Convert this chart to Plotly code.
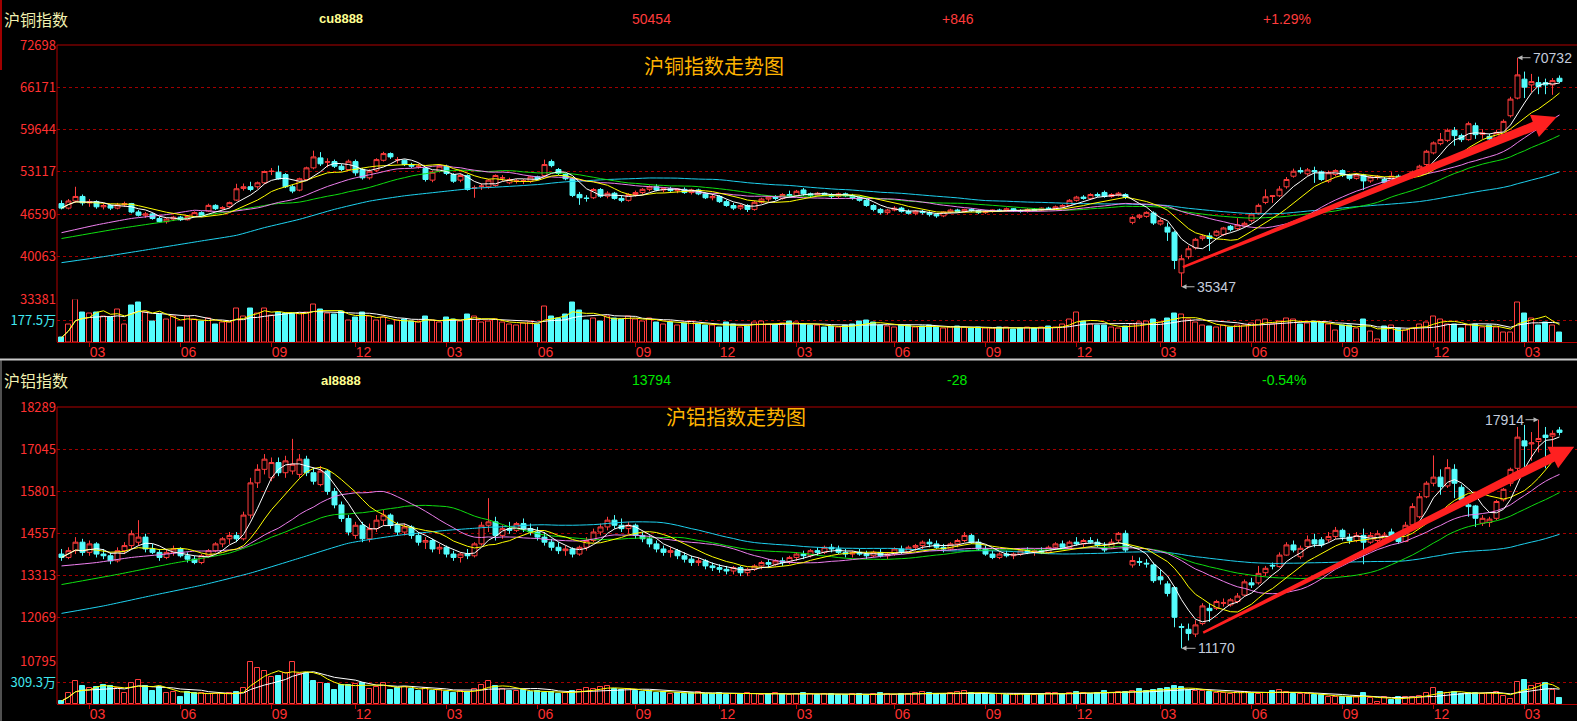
import plotly.graph_objects as go
import pandas as pd

W, H = 1577, 721
LEFT = 57
N = 215
idx = list(range(N))

# ---------------- data ----------------
tick_idx = [4, 17, 30, 42, 55, 68, 82, 94, 105, 119, 132, 145, 157, 170, 183, 196, 209]
tick_txt = ["03", "06", "09", "12"] * 4 + ["03"]

cu_open = [
    48200, 47500, 48600, 49300, 48300, 48500, 47700, 47900, 47500, 48000,
    48200, 46900, 46400, 46600, 45900, 45400, 45800, 46100, 45700, 46200,
    46800, 47040, 47920, 47450, 47720, 48740, 50540, 50800, 50800, 51410,
    53150, 53050, 52690, 50800, 50280, 51920, 53720, 55260, 54600, 54690,
    53970, 53460, 54690, 53460, 52180, 53350, 54890, 55920, 54950, 54890,
    54230, 53950, 53620, 51820, 53200, 53970, 52690, 51820, 52540, 50600,
    50850, 50800, 51000, 52150, 51410, 51650, 51680, 51660, 52330, 52540,
    54690, 53460, 52690, 52030, 49610, 49050, 49100, 50380, 49350, 49800,
    49000, 48700, 49600, 49900, 50400, 50800, 50300, 50500, 50200, 50400,
    49900, 50300, 49700, 49100, 49300, 48500, 47900, 47500, 47900, 47300,
    48400, 48900, 49200, 49000, 49600, 49400, 50300, 49700, 49500, 49800,
    49600, 49300, 49700, 49400, 49100, 48700, 47900, 47300, 46800, 47200,
    47500, 47000, 46700, 47000, 46800, 46500, 46300, 46900, 47200, 47000,
    47300, 47100, 46800, 47000, 47200, 47100, 47400, 47100, 47000, 47300,
    47200, 47500, 47400, 47700, 47900, 48700, 49200, 49000, 49600, 49920,
    49300, 49500, 49600, 45300, 46080, 46220, 46740, 45050, 44560, 43770,
    37490, 39990, 41350, 42830, 43210, 43310, 43410, 44690, 44330, 44740,
    45560, 46740, 48380, 49300, 49400, 50790, 52430, 53300, 52800, 53300,
    53100, 51660, 52700, 53300, 52600, 52100, 52600, 51700, 52300, 51920,
    51410, 52430, 51920, 52300, 53200, 54230, 56030, 57460, 57970, 59520,
    58700, 58080, 60230, 58900, 58590, 58180, 58850, 61770, 64500, 67420,
    66540, 66880, 66880, 66540, 67560]
cu_high = [
    48700, 48900, 50800, 49600, 48900, 48700, 48300, 48100, 48300, 48500,
    48300, 47200, 46900, 46800, 46200, 46000, 46300, 46300, 46400, 47000,
    47000, 48180, 48100, 47800, 48500, 51260, 51300, 51570, 51600, 53300,
    53700, 54070, 52900, 51100, 52200, 53900, 56380, 56150, 55200, 55000,
    54300, 55000, 55000, 53700, 53500, 55200, 56200, 56100, 55400, 55000,
    54500, 54400, 53900, 53300, 54300, 54200, 52900, 52800, 52700, 51000,
    51300, 52000, 52700, 52600, 52200, 52000, 52000, 52500, 52500, 54990,
    55000, 53700, 52900, 52300, 50000, 49500, 50600, 50600, 50100, 50000,
    49500, 49800, 50200, 50600, 51000, 51200, 50700, 50800, 50600, 50700,
    50500, 50500, 49900, 49600, 49500, 48800, 48300, 48100, 48100, 48600,
    49100, 49400, 49500, 49800, 50200, 50300, 50600, 49900, 50000, 49900,
    49800, 49900, 49900, 49700, 49400, 48900, 48100, 47500, 47400, 47800,
    47700, 47300, 47200, 47200, 47000, 46700, 47000, 47400, 47400, 47400,
    47500, 47300, 47200, 47300, 47400, 47600, 47500, 47300, 47500, 47500,
    47600, 47700, 47900, 48100, 48900, 49400, 49500, 49800, 49900, 50200,
    49800, 50000, 49800, 46300, 46600, 47000, 47000, 45900, 45260, 44000,
    40300, 41700, 42900, 43400, 43700, 44100, 44600, 44900, 45950, 45400,
    46800, 48200, 50400, 49450, 50900, 52300, 53600, 53800, 53700, 53900,
    53300, 53300, 53500, 53500, 52800, 52900, 52800, 52500, 52600, 52300,
    53050, 52700, 52500, 53300, 54200, 56500, 57800, 59110, 59800, 60030,
    59000, 60850, 60700, 59700, 59000, 59600, 61200, 64700, 70732, 68590,
    68230, 67800, 67500, 67600, 68000]
cu_low = [
    47300, 47300, 48300, 47900, 47700, 47400, 47300, 47200, 47300, 47700,
    46700, 46200, 46000, 45700, 45200, 45100, 45500, 45500, 45600, 46000,
    46100, 46900, 47200, 47300, 47500, 48600, 50200, 50100, 50500, 51200,
    52600, 51900, 50600, 49800, 50100, 51700, 53500, 54000, 53800, 53700,
    53200, 53300, 52500, 51900, 51900, 53100, 54700, 55100, 54400, 54000,
    53700, 53600, 51600, 51500, 53000, 52600, 51400, 51500, 50200, 49100,
    50300, 50500, 50800, 51700, 51200, 51300, 51200, 51400, 51800, 52300,
    53800, 52600, 51800, 49200, 48000, 48500, 48900, 49100, 49000, 48800,
    48400, 48500, 49300, 49600, 50100, 50100, 49900, 50000, 49800, 49700,
    49600, 49500, 48900, 48700, 48300, 47700, 47200, 47200, 46900, 47100,
    48200, 48500, 48700, 48800, 49200, 49300, 49400, 49100, 49300, 49400,
    48900, 49000, 49200, 48800, 48500, 47700, 47000, 46500, 46500, 47000,
    46800, 46500, 46400, 46500, 46200, 46000, 46100, 46700, 46800, 46800,
    46900, 46600, 46600, 46800, 46900, 46900, 46900, 46800, 46800, 47000,
    47000, 47200, 47200, 47500, 47800, 48500, 48800, 48900, 49200, 49100,
    49100, 49300, 48900, 45000, 45800, 46000, 44900, 44800, 42430, 38070,
    35347, 39600, 41100, 42500, 40880, 43100, 43200, 43900, 44100, 44500,
    45300, 46500, 48100, 48300, 49200, 50500, 52200, 52800, 52500, 51400,
    51700, 51400, 52400, 52300, 51800, 51900, 50300, 51400, 51900, 51200,
    51200, 51600, 51700, 52100, 53000, 54000, 55800, 57200, 57700, 57150,
    57700, 57900, 58200, 58200, 57900, 57800, 58600, 61500, 64300, 64500,
    65360, 65100, 65100, 65000, 66800]
cu_close = [
    47500, 48600, 49300, 48300, 48500, 47700, 47900, 47500, 48000, 48200,
    46900, 46400, 46600, 45900, 45400, 45800, 46100, 45700, 46200, 46800,
    46300, 47920, 47410, 47560, 48340, 50490, 50800, 50380, 51410, 53150,
    53200, 52030, 50800, 50130, 52030, 53720, 55410, 54340, 54650, 53970,
    53460, 54740, 52950, 52180, 53200, 54990, 55920, 55410, 54990, 54230,
    53970, 53970, 51920, 53050, 53970, 52850, 51660, 52540, 50380, 50640,
    50900, 51820, 52540, 52180, 51920, 51700, 51720, 52330, 52000, 54230,
    54070, 52850, 52030, 49460, 49100, 49000, 50380, 49350, 49800, 49000,
    48700, 49600, 49900, 50400, 50800, 50300, 50500, 50200, 50400, 49900,
    50300, 49700, 49100, 49300, 48500, 47900, 47500, 47900, 47300, 48400,
    48900, 49200, 49000, 49600, 49400, 50100, 49700, 49500, 49800, 49600,
    49300, 49700, 49400, 49100, 48700, 47900, 47300, 46800, 47200, 47500,
    47000, 46700, 47000, 46800, 46500, 46300, 46900, 47200, 47000, 47300,
    47100, 46800, 47000, 47200, 47100, 47400, 47100, 47000, 47300, 47200,
    47500, 47400, 47700, 47900, 48700, 49200, 49000, 49600, 49400, 49300,
    49600, 49800, 49150, 46070, 46390, 46840, 45200, 45560, 43790, 39410,
    39680, 41220, 42680, 43160, 42800, 43930, 44430, 44180, 44900, 45150,
    46580, 47920, 49250, 49400, 50430, 51920, 53200, 53100, 53400, 53100,
    51920, 52950, 53300, 52600, 52100, 52600, 51700, 52300, 52400, 51410,
    52430, 51920, 52300, 53100, 53970, 56280, 57570, 58080, 59520, 58700,
    58080, 60540, 58850, 59110, 58180, 59200, 60900, 64340, 68080, 66190,
    67050, 66280, 66540, 67200, 67050]
cu_vol = [  # 万手
    36, 148, 351, 250, 240, 245, 217, 206, 273, 150,
    309, 334, 245, 170, 228, 184, 217, 120, 217, 190,
    170, 198, 150, 161, 161, 284, 217, 284, 240, 281,
    225, 245, 234, 240, 234, 245, 317, 273, 240, 228,
    253, 178, 206, 250, 211, 178, 206, 134, 178, 190,
    170, 165, 215, 180, 160, 205, 190, 175, 230, 215,
    160, 175, 190, 160, 150, 140, 155, 165, 150, 300,
    210, 195, 230, 330, 260, 180, 200, 170, 215, 200,
    190, 210, 185, 175, 200, 165, 150, 160, 140, 155,
    170, 150, 135, 140, 125, 160, 150, 120, 130, 165,
    175, 150, 140, 155, 170, 160, 145, 135, 140, 125,
    130, 120, 135, 150, 170, 180, 165, 140, 130, 125,
    140, 135, 120, 130, 140, 125, 115, 120, 130, 125,
    110, 120, 115, 110, 125, 120, 105, 115, 125, 110,
    120, 130, 125, 150, 185, 245, 170, 150, 140, 135,
    125, 110, 130, 150, 165, 170, 185, 160, 200, 240,
    230, 185, 160, 140, 130, 125, 140, 120, 135, 140,
    155, 180, 190, 150, 170, 200, 185, 150, 156, 170,
    164, 148, 100, 134, 134, 114, 192, 86, 22, 128,
    134, 114, 100, 114, 150, 161, 217, 184, 150, 150,
    109, 134, 148, 123, 136, 123, 78, 78, 334, 242,
    198, 142, 161, 142, 78]

al_open = [
    13950, 13850, 14050, 14300, 14000, 14250, 13950, 13900, 13750, 14050,
    14200, 14300, 14450, 14100, 14000, 13850, 14000, 14100, 13900, 13800,
    13700, 13900, 14050, 14250, 14400, 14500, 14400, 15100, 16050, 16450,
    16200, 16650, 16350, 16400, 16300, 16750, 16350, 16000, 16400, 15800,
    15400, 15000, 14500, 14800, 14400, 14700, 14950, 15100, 14800, 14600,
    14750, 14500, 14300, 14350, 14100, 14150, 13950, 13850, 13950, 13900,
    14250, 14800, 14900, 14500, 14700, 14650, 14850, 14700, 14600, 14450,
    14300, 14150, 14050, 14100, 13950, 14150, 14350, 14600, 14750, 14950,
    14800, 14700, 14800, 14500, 14400, 14250, 14100, 14000, 14050, 13900,
    13800, 13700, 13750, 13600, 13550, 13500, 13450, 13550, 13400, 13500,
    13600, 13700, 13650, 13750, 13700, 13850, 13950, 13900, 14050, 14000,
    14150, 14100, 14000, 13950, 14000, 13950, 13900, 14000, 13900, 13950,
    14100, 14000, 14150, 14200, 14300, 14250, 14150, 14100, 14250, 14350,
    14500, 14300, 14100, 13950, 13850, 13950, 13900, 13950, 14050, 14000,
    14050, 14000, 14150, 14250, 14150, 14300, 14250, 14350, 14300, 14120,
    14150, 14360, 14560, 13630, 13730, 13680, 13630, 13280, 13070, 12960,
    11810, 11730, 11590, 11900, 12350, 12350, 12500, 12450, 12550, 12740,
    13100, 13100, 13400, 13620, 13580, 13920, 14220, 13870, 14170, 14370,
    14370, 14370, 14470, 14650, 14450, 14350, 14500, 14300, 14350, 14390,
    14600, 14460, 14320, 14810, 15050, 15640, 16040, 16220, 15960, 16450,
    15920, 15400, 15370, 14860, 14880, 15005, 15550, 16040, 16480, 17290,
    17200, 17270, 17460, 17430, 17610]
al_high = [
    14100, 14150, 14450, 14400, 14350, 14300, 14100, 14000, 14150, 14300,
    14650, 14950, 14550, 14250, 14100, 14100, 14200, 14150, 14000, 13900,
    13950, 14100, 14300, 14450, 14600, 14600, 15200, 16200, 16600, 16900,
    16800, 16800, 16850, 17350, 16900, 16850, 16500, 16550, 16450, 15900,
    15500, 15100, 14900, 14900, 14850, 15100, 15250, 15150, 14900, 14850,
    14800, 14600, 14450, 14400, 14250, 14200, 14050, 14000, 14100, 14300,
    14900, 15600, 15050, 14800, 14900, 14900, 15000, 14850, 14750, 14600,
    14400, 14300, 14200, 14150, 14200, 14450, 14700, 14850, 15050, 15100,
    15000, 14900, 14850, 14600, 14500, 14350, 14200, 14150, 14100, 14000,
    13900, 13850, 13800, 13700, 13650, 13600, 13600, 13600, 13550, 13650,
    13750, 13800, 13800, 13850, 13900, 14000, 14050, 14100, 14150, 14200,
    14250, 14200, 14100, 14050, 14100, 14050, 14050, 14100, 14000, 14150,
    14200, 14200, 14250, 14350, 14400, 14350, 14250, 14300, 14400, 14600,
    14550, 14400, 14200, 14050, 14000, 14050, 14000, 14100, 14150, 14100,
    14150, 14200, 14300, 14350, 14350, 14450, 14400, 14450, 14400, 14300,
    14400, 14600, 14650, 13900, 13850, 13800, 13700, 13500, 13150, 13000,
    11900, 11900, 12000, 12500, 12500, 12600, 12640, 12650, 12800, 13200,
    13250, 13600, 13600, 13700, 14000, 14300, 14350, 14200, 14500, 14550,
    14450, 14600, 14750, 14700, 14550, 14600, 14700, 14600, 14650, 14600,
    14700, 14550, 14900, 15450, 15750, 16100, 16860, 16450, 16750, 16600,
    16000, 15500, 15400, 15100, 15050, 15550, 15900, 16500, 17700, 17760,
    17550, 17914, 17700, 17600, 17700]
al_low = [
    13750, 13800, 13950, 13900, 13900, 13850, 13800, 13650, 13700, 13950,
    14100, 14200, 14000, 13950, 13750, 13800, 13900, 13850, 13700, 13650,
    13650, 13850, 14000, 14150, 14250, 14300, 14350, 15000, 15900, 16300,
    16100, 16250, 16200, 16300, 16200, 16250, 16000, 15950, 15700, 15300,
    14900, 14500, 14400, 14300, 14300, 14600, 14800, 14700, 14500, 14500,
    14400, 14200, 14100, 14000, 13950, 13850, 13750, 13700, 13800, 13850,
    14200, 14600, 14350, 14400, 14550, 14600, 14600, 14500, 14350, 14200,
    14050, 13950, 13900, 13850, 13900, 14050, 14300, 14500, 14650, 14700,
    14600, 14550, 14400, 14300, 14150, 14000, 13900, 13850, 13800, 13700,
    13600, 13600, 13500, 13450, 13400, 13350, 13350, 13300, 13300, 13450,
    13500, 13550, 13600, 13600, 13650, 13750, 13800, 13850, 13900, 13950,
    14000, 13950, 13850, 13850, 13900, 13800, 13850, 13850, 13800, 13900,
    13950, 13950, 14050, 14100, 14150, 14100, 14000, 14050, 14150, 14300,
    14250, 14050, 13900, 13800, 13800, 13850, 13800, 13900, 13950, 13900,
    13950, 13950, 14100, 14100, 14100, 14200, 14150, 14250, 14150, 14000,
    14100, 14300, 14000, 13550, 13600, 13550, 13100, 13050, 12700, 11790,
    11170, 11400, 11500, 11850, 11950, 12300, 12400, 12400, 12500, 12700,
    12950, 13050, 13300, 13500, 13550, 13900, 14000, 13800, 14100, 14150,
    14150, 14300, 14400, 14350, 14250, 14300, 13650, 14250, 14300, 14300,
    14350, 14250, 14300, 14750, 15000, 15600, 15950, 15700, 15900, 15600,
    15400, 15050, 14750, 14780, 14750, 14950, 15500, 15950, 16400, 16480,
    16700, 16950, 16480, 17030, 17450]
al_close = [
    13850, 14050, 14300, 14000, 14250, 13950, 13900, 13750, 14050, 14200,
    14550, 14450, 14100, 14000, 13850, 14000, 14100, 13900, 13800, 13700,
    13900, 14050, 14250, 14400, 14500, 14400, 15100, 16050, 16450, 16750,
    16650, 16350, 16700, 16600, 16750, 16350, 16100, 16400, 15800, 15400,
    15000, 14600, 14800, 14400, 14700, 14950, 15100, 14800, 14600, 14750,
    14500, 14300, 14350, 14100, 14150, 13950, 13850, 13950, 13900, 14250,
    14800, 14900, 14500, 14700, 14650, 14850, 14700, 14600, 14450, 14300,
    14150, 14050, 14100, 13950, 14150, 14350, 14600, 14750, 14950, 14800,
    14700, 14800, 14500, 14400, 14250, 14100, 14000, 14050, 13900, 13800,
    13700, 13750, 13600, 13550, 13500, 13450, 13550, 13400, 13500, 13600,
    13700, 13650, 13750, 13700, 13850, 13950, 13900, 14050, 14000, 14150,
    14100, 14000, 13950, 14000, 13950, 13900, 14000, 13900, 13950, 14100,
    14000, 14150, 14200, 14300, 14250, 14150, 14100, 14250, 14350, 14500,
    14300, 14100, 13950, 13850, 13950, 13900, 13950, 14050, 14000, 14050,
    14000, 14150, 14250, 14150, 14300, 14250, 14350, 14300, 14200, 14070,
    14300, 14560, 14070, 13760, 13710, 13660, 13165, 13190, 12790, 12085,
    11790, 11610, 11860, 12420, 12280, 12550, 12510, 12600, 12710, 13130,
    13040, 13380, 13530, 13600, 13920, 14220, 14070, 14120, 14370, 14250,
    14220, 14470, 14650, 14450, 14350, 14500, 14300, 14500, 14550, 14510,
    14460, 14320, 14800, 15350, 15640, 16040, 16220, 15940, 16500, 16040,
    15550, 15350, 15005, 15005, 14980, 15500, 15860, 16450, 17400, 17140,
    17230, 17360, 17390, 17510, 17540]
al_vol = [  # 万手
    43, 154, 331, 259, 225, 249, 273, 259, 225, 154,
    297, 345, 259, 192, 240, 163, 177, 105, 177, 163,
    154, 144, 144, 144, 154, 177, 225, 604, 513, 475,
    393, 403, 441, 604, 432, 441, 335, 297, 288, 201,
    273, 273, 288, 307, 211, 249, 307, 201, 235, 250,
    210, 190, 230, 180, 200, 170, 160, 190, 175, 220,
    280, 330, 260, 210, 190, 180, 200, 170, 185, 160,
    175, 150, 165, 180, 200, 230, 210, 240, 260, 220,
    200, 210, 190, 170, 185, 160, 175, 150, 165, 140,
    155, 170, 145, 150, 160, 135, 140, 150, 165, 140,
    130, 145, 155, 140, 135, 150, 160, 145, 130, 140,
    150, 135, 125, 140, 150, 130, 145, 155, 140, 130,
    145, 150, 160, 170, 155, 140, 150, 160, 175, 190,
    165, 150, 140, 130, 145, 135, 140, 150, 145, 130,
    140, 155, 160, 150, 165, 170, 160, 150, 155, 180,
    165, 175, 170, 185, 210, 190, 200, 215, 230, 260,
    240, 200, 190, 180, 170, 165, 160, 150, 170, 175,
    160, 150, 165, 180, 195, 170, 150, 145, 139, 129,
    129, 105, 96, 105, 105, 96, 154, 82, 33, 96,
    58, 105, 105, 105, 115, 154, 225, 177, 154, 177,
    144, 154, 163, 144, 163, 177, 115, 67, 312, 345,
    259, 283, 297, 201, 82]

# long moving averages before enough weeks are on screen
cu_ma20_lead_i = [0, 5, 10, 15]
cu_ma20_lead_v = [43700, 44900, 45900, 46500]
cu_ma30_lead_i = [0, 8, 16, 24]
cu_ma30_lead_v = [42800, 44300, 45600, 47000]
cu_ma60_lead_i = [0, 6, 13, 20, 25, 29, 34, 39, 44, 49, 53]
cu_ma60_lead_v = [39070, 40000, 41200, 42430, 43300, 44490, 45770, 47310, 48580, 49400, 49880]
al_ma20_lead_i = [0, 5, 10, 15]
al_ma20_lead_v = [13600, 13700, 13850, 13950]
al_ma30_lead_i = [0, 8, 16, 24]
al_ma30_lead_v = [13050, 13350, 13680, 13980]
al_ma60_lead_i = [0, 6, 13, 20, 27, 34, 41, 48, 55]
al_ma60_lead_v = [12200, 12420, 12730, 13030, 13390, 13830, 14270, 14500, 14650]

cu_ticks = [72698, 66171, 59644, 53117, 46590, 40063, 33381]
al_ticks = [18289, 17045, 15801, 14557, 13313, 12069, 10795]
cu_vol_tick, cu_vol_max = 177.5, 355.0
al_vol_tick, al_vol_max = 309.3, 618.6

# arrows (start / tip in week index, price)
cu_arrow = [(160.2, 38378), (213.6, 61571)]
al_arrow = [(163.1, 11631), (216.1, 17118)]

# ---------------- styles / geometry ----------------
RED = "#ff3c3c"
CYAN = "#54fcfc"
GRID = "#a00000"
AXIS = "#b00000"
NUM = "Liberation Sans, Arial, sans-serif"
CJK = "Noto Sans CJK SC, Liberation Sans, sans-serif"
MA_COL = {5: "#ffffff", 10: "#ffff00", 20: "#f080f0", 30: "#10e010", 60: "#1ed2f0"}
XR = [-0.643, 216.5]
CU_K, CU_V = (45, 299.5), (299.5, 342)
AL_K, AL_V = (407, 661), (661, 704)
CU_RANGE = [cu_ticks[-1], cu_ticks[0]]
AL_RANGE = [al_ticks[-1], al_ticks[0]]


def pxp(x):
    return x / W


def pyp(y):
    return 1 - y / H


def ma_short(vals, w):
    return pd.Series(vals, dtype=float).rolling(w, min_periods=1).mean().tolist()


def ma_long(vals, w, lead_i, lead_v):
    s = pd.Series(vals, dtype=float).rolling(w).mean()
    return list(lead_i) + list(range(w - 1, N)), list(lead_v) + s.iloc[w - 1:].tolist()


fig = go.Figure()


def add_panel(o, h, l, c, vol, leads, xa, ya, yva):
    fig.add_trace(go.Candlestick(
        x=idx, open=o, high=h, low=l, close=c, xaxis=xa, yaxis=ya,
        increasing=dict(line=dict(color=RED, width=1), fillcolor="#000000"),
        decreasing=dict(line=dict(color=CYAN, width=1), fillcolor=CYAN),
        whiskerwidth=0, showlegend=False, hoverinfo="skip"))
    for w in (60, 30, 20):
        li, lv = leads[w]
        xs, ys = ma_long(c, w, li, lv)
        fig.add_trace(go.Scatter(x=xs, y=ys, mode="lines", xaxis=xa, yaxis=ya,
                                 line=dict(color=MA_COL[w], width=1, shape="spline", smoothing=0.5),
                                 showlegend=False, hoverinfo="skip"))
    for w in (10, 5):
        fig.add_trace(go.Scatter(x=idx, y=ma_short(c, w), mode="lines", xaxis=xa, yaxis=ya,
                                 line=dict(color=MA_COL[w], width=1),
                                 showlegend=False, hoverinfo="skip"))
    up = [cc > oo for oo, cc in zip(o, c)]
    fig.add_trace(go.Bar(
        x=idx, y=vol, xaxis=xa, yaxis=yva, width=0.62,
        marker=dict(color=["#000000" if u else CYAN for u in up],
                    line=dict(color=[RED if u else CYAN for u in up], width=1)),
        showlegend=False, hoverinfo="skip"))
    fig.add_trace(go.Scatter(x=idx, y=ma_short(vol, 10), mode="lines", xaxis=xa, yaxis=yva,
                             line=dict(color="#ffffff", width=1), showlegend=False, hoverinfo="skip"))
    fig.add_trace(go.Scatter(x=idx, y=ma_short(vol, 5), mode="lines", xaxis=xa, yaxis=yva,
                             line=dict(color="#ffff00", width=1), showlegend=False, hoverinfo="skip"))


add_panel(cu_open, cu_high, cu_low, cu_close, cu_vol,
          {20: (cu_ma20_lead_i, cu_ma20_lead_v), 30: (cu_ma30_lead_i, cu_ma30_lead_v),
           60: (cu_ma60_lead_i, cu_ma60_lead_v)}, "x", "y", "y2")
add_panel(al_open, al_high, al_low, al_close, al_vol,
          {20: (al_ma20_lead_i, al_ma20_lead_v), 30: (al_ma30_lead_i, al_ma30_lead_v),
           60: (al_ma60_lead_i, al_ma60_lead_v)}, "x2", "y3", "y4")


def xaxis(anchor):
    return dict(range=XR, domain=[pxp(LEFT), 1], anchor=anchor, tickmode="array",
                tickvals=tick_idx, ticktext=tick_txt, ticks="outside", ticklen=4,
                tickcolor="#c00000", tickfont=dict(color="#ff3030", size=14, family=NUM),
                showgrid=False, zeroline=False, showline=True, linecolor=AXIS, linewidth=1,
                rangeslider=dict(visible=False), ticklabelshift=8, ticklabelstandoff=-7,
                fixedrange=True, automargin=False)


def yaxis(pxr, rng, tv, tt, color, anchor):
    return dict(domain=[pyp(pxr[1]), pyp(pxr[0])], range=rng, anchor=anchor, tickmode="array",
                tickvals=tv, ticktext=tt, tickfont=dict(color=color, size=13, family=CJK),
                showgrid=True, gridcolor=GRID, griddash="dot", gridwidth=1,
                zeroline=False, showline=False, ticks="", fixedrange=True, automargin=False)


def arrow_path(p0, p1, rng, kpx):
    def to_px(i, v):
        x = LEFT + (i - XR[0]) / (XR[1] - XR[0]) * (W - LEFT)
        y = kpx[0] + (rng[1] - v) / (rng[1] - rng[0]) * (kpx[1] - kpx[0])
        return x, y
    sx, sy = to_px(*p0)
    tx, ty = to_px(*p1)
    dx, dy = tx - sx, ty - sy
    ln = (dx * dx + dy * dy) ** 0.5
    ux, uy = dx / ln, dy / ln
    nx, ny = -uy, ux
    head, hw, sw1, sw0 = 24, 12, 4.5, 1.2
    bx, by = tx - ux * head, ty - uy * head
    pts = [(sx + nx * sw0, sy + ny * sw0), (bx + nx * sw1, by + ny * sw1),
           (bx + nx * hw, by + ny * hw), (tx, ty), (bx - nx * hw, by - ny * hw),
           (bx - nx * sw1, by - ny * sw1), (sx - nx * sw0, sy - ny * sw0)]
    return "M " + " L ".join(f"{pxp(x):.5f},{pyp(y):.5f}" for x, y in pts) + " Z"


def line(x0, y0, x1, y1, color, width=1):
    return dict(type="line", xref="paper", yref="paper", x0=pxp(x0), y0=pyp(y0),
                x1=pxp(x1), y1=pyp(y1), line=dict(color=color, width=width))


shapes = [
    line(LEFT, CU_K[0], W, CU_K[0], AXIS), line(LEFT, CU_K[0], LEFT, CU_V[1], AXIS),
    line(LEFT, AL_K[0], W, AL_K[0], AXIS), line(LEFT, AL_K[0], LEFT, AL_V[1], AXIS),
    line(0, 359.5, W, 359.5, "#c8c8c8", 2), line(1, 360, 1, H, "#a0a0a0", 1),
    line(1, 0, 1, 70, "#a00000", 2),
    dict(type="path", xref="paper", yref="paper", path=arrow_path(*cu_arrow, CU_RANGE, CU_K),
         fillcolor="#ff2020", line=dict(width=0)),
    dict(type="path", xref="paper", yref="paper", path=arrow_path(*al_arrow, AL_RANGE, AL_K),
         fillcolor="#ff2020", line=dict(width=0)),
]


def txt(text, x, y, color, size, family=NUM, xanchor="center", bold=False):
    t = f"<b>{text}</b>" if bold else text
    return dict(text=t, x=pxp(x), y=pyp(y), xref="paper", yref="paper", showarrow=False,
                xanchor=xanchor, yanchor="middle", font=dict(color=color, size=size, family=family))


GREEN = "#00e800"
ann = [
    txt("沪铜指数", 2, 19, "#f0f0b0", 16, CJK, "left"),
    txt("cu8888", 341, 19, "#ffff90", 13, NUM, bold=True),
    txt("50454", 651, 19, RED, 14),
    txt("+846", 958, 19, RED, 14),
    txt("+1.29%", 1287, 19, RED, 14),
    txt("沪铝指数", 2, 380, "#f0f0b0", 16, CJK, "left"),
    txt("al8888", 341, 380, "#ffff90", 13, NUM, bold=True),
    txt("13794", 651, 380, GREEN, 14),
    txt("-28", 957, 380, GREEN, 14),
    txt("-0.54%", 1284, 380, GREEN, 14),
    txt("沪铜指数走势图", 714, 66, "#ffb400", 20, CJK),
    txt("沪铝指数走势图", 736, 416, "#ffb400", 20, CJK),
]


def mark(text, i, v, xa, ya, ax):
    return dict(text=text, x=i, y=v, xref=xa, yref=ya, showarrow=True, ax=ax, ay=0,
                xanchor="left" if ax > 0 else "right", yanchor="middle",
                arrowhead=2, arrowsize=1, arrowwidth=1, arrowcolor="#b8b8b8", standoff=0,
                font=dict(color="#c4ccdc", size=14, family=NUM))


ann += [
    mark("70732", 208, 70732, "x", "y", 13),
    mark("35347", 160, 35347, "x", "y", 13),
    mark("17914", 211, 17914, "x2", "y3", -13),
    mark("11170", 160, 11170, "x2", "y3", 14),
]

fig.update_layout(
    width=W, height=H, margin=dict(l=0, r=0, t=0, b=0, autoexpand=False),
    paper_bgcolor="#000000", plot_bgcolor="#000000",
    showlegend=False, boxgap=0.16, boxgroupgap=0.16, bargap=0,
    xaxis=xaxis("y2"), xaxis2=xaxis("y4"),
    yaxis=yaxis(CU_K, CU_RANGE, cu_ticks, [str(v) for v in cu_ticks], "#ff3030", "x"),
    yaxis2=yaxis(CU_V, [0, cu_vol_max], [cu_vol_tick], ["177.5万"], "#40e8f0", "x"),
    yaxis3=yaxis(AL_K, AL_RANGE, al_ticks, [str(v) for v in al_ticks], "#ff3030", "x2"),
    yaxis4=yaxis(AL_V, [0, al_vol_max], [al_vol_tick], ["309.3万"], "#40e8f0", "x2"),
    shapes=shapes, annotations=ann,
)

fig.write_html("out.html", config={"displayModeBar": False},
               post_script="document.body.style.margin='0';document.body.style.background='#000';"
                           "document.body.style.overflow='hidden';")
